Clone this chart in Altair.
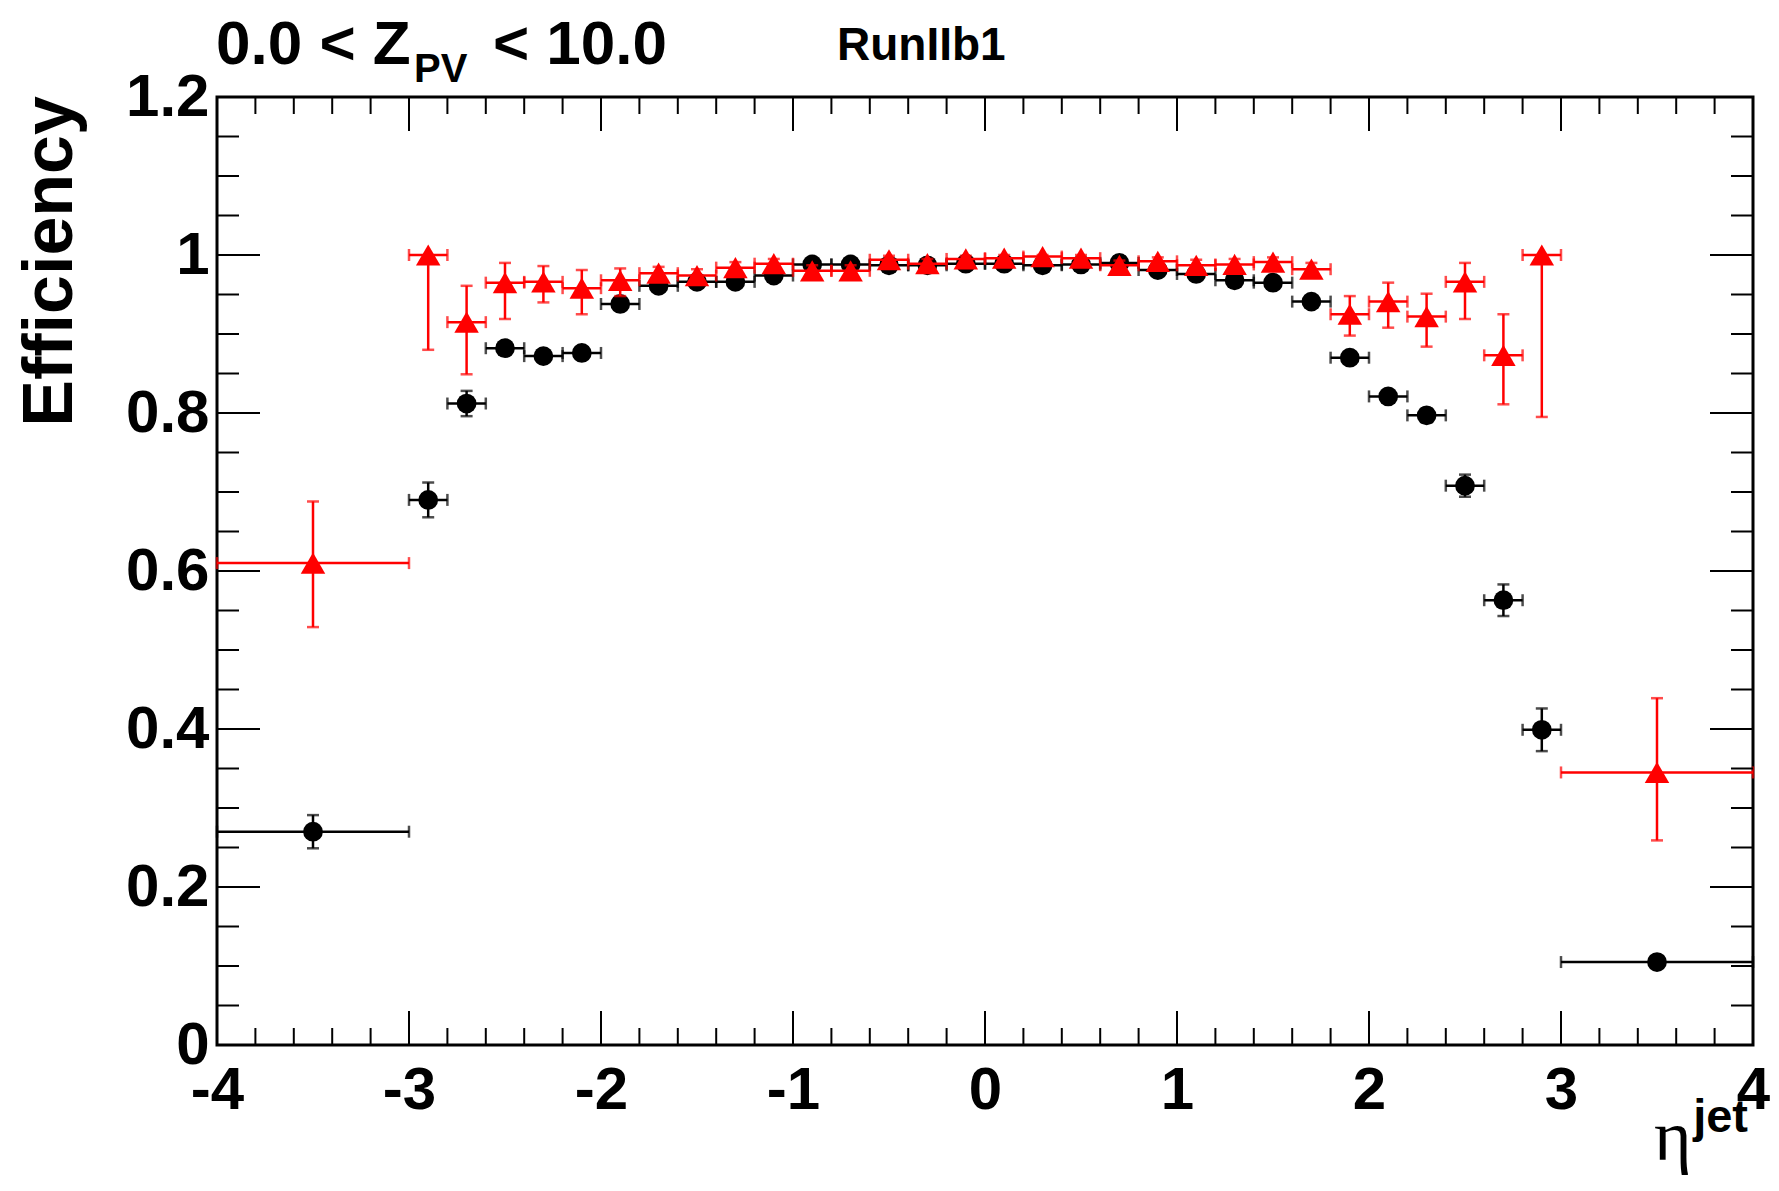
import altair as alt
import pandas as pd

# ---------------- data ----------------
eta = [-3.5, -2.9, -2.7, -2.5, -2.3, -2.1, -1.9, -1.7, -1.5, -1.3, -1.1, -0.9, -0.7, -0.5, -0.3, -0.1,
       0.1, 0.3, 0.5, 0.7, 0.9, 1.1, 1.3, 1.5, 1.7, 1.9, 2.1, 2.3, 2.5, 2.7, 2.9, 3.5]
bin_lo = [-4.0, -3.0, -2.8, -2.6, -2.4, -2.2, -2.0, -1.8, -1.6, -1.4, -1.2, -1.0, -0.8, -0.6, -0.4, -0.2,
          0.0, 0.2, 0.4, 0.6, 0.8, 1.0, 1.2, 1.4, 1.6, 1.8, 2.0, 2.2, 2.4, 2.6, 2.8, 3.0]
bin_hi = [-3.0, -2.8, -2.6, -2.4, -2.2, -2.0, -1.8, -1.6, -1.4, -1.2, -1.0, -0.8, -0.6, -0.4, -0.2, 0.0,
          0.2, 0.4, 0.6, 0.8, 1.0, 1.2, 1.4, 1.6, 1.8, 2.0, 2.2, 2.4, 2.6, 2.8, 3.0, 4.0]

black_eff = [0.270, 0.690, 0.812, 0.882, 0.872, 0.876, 0.938, 0.961, 0.966, 0.966, 0.974, 0.988, 0.988,
             0.987, 0.987, 0.989, 0.989, 0.987, 0.988, 0.990, 0.981, 0.976, 0.968, 0.965, 0.941, 0.870,
             0.821, 0.797, 0.708, 0.563, 0.399, 0.105]
black_err = [0.021, 0.022, 0.016, 0.006, 0.006, 0.006, 0.005, 0.004, 0.004, 0.004, 0.004, 0.003, 0.003,
             0.003, 0.003, 0.003, 0.003, 0.003, 0.003, 0.003, 0.003, 0.004, 0.004, 0.004, 0.005, 0.007,
             0.008, 0.009, 0.014, 0.020, 0.027, 0.004]

red_eff = [0.610, 1.000, 0.915, 0.965, 0.966, 0.958, 0.968, 0.977, 0.974, 0.984, 0.989, 0.980, 0.980,
           0.994, 0.989, 0.995, 0.996, 0.998, 0.996, 0.987, 0.992, 0.987, 0.988, 0.991, 0.982, 0.925,
           0.941, 0.922, 0.966, 0.873, 1.000, 0.345]
red_err_up = [0.078, 0.000, 0.046, 0.025, 0.020, 0.023, 0.015, 0.008, 0.008, 0.007, 0.006, 0.007, 0.007,
              0.005, 0.006, 0.004, 0.004, 0.002, 0.004, 0.006, 0.005, 0.007, 0.007, 0.006, 0.008, 0.023,
              0.024, 0.029, 0.024, 0.052, 0.000, 0.094]
red_err_dn = [0.081, 0.120, 0.066, 0.046, 0.026, 0.033, 0.020, 0.010, 0.010, 0.009, 0.008, 0.009, 0.009,
              0.007, 0.008, 0.006, 0.006, 0.006, 0.006, 0.008, 0.007, 0.009, 0.009, 0.008, 0.010, 0.027,
              0.033, 0.038, 0.047, 0.062, 0.205, 0.086]

x_major = [-4, -3, -2, -1, 0, 1, 2, 3, 4]
x_minor = [-3.8, -3.6, -3.4, -3.2, -2.8, -2.6, -2.4, -2.2, -1.8, -1.6, -1.4, -1.2, -0.8, -0.6, -0.4, -0.2,
           0.2, 0.4, 0.6, 0.8, 1.2, 1.4, 1.6, 1.8, 2.2, 2.4, 2.6, 2.8, 3.2, 3.4, 3.6, 3.8]
y_major = [0, 0.2, 0.4, 0.6, 0.8, 1.0, 1.2]
y_minor = [0.05, 0.1, 0.15, 0.25, 0.3, 0.35, 0.45, 0.5, 0.55, 0.65, 0.7, 0.75, 0.85, 0.9, 0.95,
           1.05, 1.1, 1.15]

title_left = ["0.0 < Z"]
title_sub = ["PV"]
title_right = ["< 10.0"]
run_label = ["RunIIb1"]
y_title = ["Efficiency"]
x_title_main = ["\u03b7"]
x_title_sup = ["jet"]

# ---------------- layout ----------------
W, H = 1536, 948
FONT = "Liberation Sans"

x_scale = alt.Scale(domain=[-4, 4], nice=False, zero=False)
y_scale = alt.Scale(domain=[0, 1.2], nice=False, zero=False)

x_axis = alt.Axis(values=x_major, title=None, labelPadding=16, labelFlush=False, labelOverlap=False,
                  labelFontSize=60, labelExpr="'' + datum.value",
                  ticks=False, domain=False, grid=False)
y_axis = alt.Axis(values=y_major, title=None, labelPadding=8, labelFlush=False, labelOverlap=False,
                  labelFontSize=60, labelExpr="'' + datum.value",
                  ticks=False, domain=False, grid=False)


def X(field):
    return alt.X(field, scale=x_scale, axis=x_axis)


def Y(field):
    return alt.Y(field, scale=y_scale, axis=y_axis)


def series_layers(df, color, shape, size):
    base = alt.Chart(df)
    lw = 2.5
    vbar = base.mark_rule(color=color, strokeWidth=lw).encode(
        x=X("eta:Q"), y=Y("lo_y:Q"), y2="hi_y:Q")
    hbar = base.mark_rule(color=color, strokeWidth=lw).encode(
        x=X("lo_x:Q"), x2="hi_x:Q", y=Y("eff:Q"))
    cap_lo = base.transform_filter("datum.eff - datum.lo_y > 0").mark_tick(
        orient="horizontal", color=color, size=12, thickness=lw).encode(
        x=X("eta:Q"), y=Y("lo_y:Q"))
    cap_hi = base.transform_filter("datum.hi_y - datum.eff > 0").mark_tick(
        orient="horizontal", color=color, size=12, thickness=lw).encode(
        x=X("eta:Q"), y=Y("hi_y:Q"))
    cap_l = base.mark_tick(orient="vertical", color=color, size=12, thickness=lw).encode(
        x=X("lo_x:Q"), y=Y("eff:Q"))
    cap_r = base.mark_tick(orient="vertical", color=color, size=12, thickness=lw).encode(
        x=X("hi_x:Q"), y=Y("eff:Q"))
    pts = base.mark_point(filled=True, shape=shape, size=size, color=color, opacity=1,
                          strokeWidth=0).encode(x=X("eta:Q"), y=Y("eff:Q"))
    return [vbar, hbar, cap_lo, cap_hi, cap_l, cap_r, pts]


black_df = pd.DataFrame({
    "eta": eta, "lo_x": bin_lo, "hi_x": bin_hi, "eff": black_eff,
    "lo_y": [e - d for e, d in zip(black_eff, black_err)],
    "hi_y": [e + d for e, d in zip(black_eff, black_err)],
})
red_df = pd.DataFrame({
    "eta": eta, "lo_x": bin_lo, "hi_x": bin_hi, "eff": red_eff,
    "lo_y": [e - d for e, d in zip(red_eff, red_err_dn)],
    "hi_y": [e + d for e, d in zip(red_eff, red_err_up)],
})


def yticks(vals, x0, x1):
    return alt.Chart(pd.DataFrame({"v": vals})).mark_rule(color="black", strokeWidth=2).encode(
        y=Y("v:Q"), x=alt.value(x0), x2=alt.value(x1))


def xticks(vals, y0, y1):
    return alt.Chart(pd.DataFrame({"v": vals})).mark_rule(color="black", strokeWidth=2).encode(
        x=X("v:Q"), y=alt.value(y0), y2=alt.value(y1))


tick_layers = [
    yticks(y_major, 0, 43), yticks(y_minor, 0, 22),
    yticks(y_major, W - 43, W), yticks(y_minor, W - 22, W),
    xticks(x_major, 0, 34), xticks(x_minor, 0, 17),
    xticks(x_major, H - 34, H), xticks(x_minor, H - 17, H),
]


def label(texts, x, y, size, align="left", weight="bold", font=FONT, angle=0):
    return alt.Chart(pd.DataFrame({"t": texts})).mark_text(
        align=align, baseline="alphabetic", font=font, fontSize=size, fontWeight=weight,
        color="black", angle=angle).encode(text="t:N", x=alt.value(x), y=alt.value(y))


text_layers = [
    label(title_left, -1, -33, 62),
    label(title_sub, 197, -15, 40),
    label(title_right, 450, -33, 62, align="right"),
    label(run_label, 620, -37, 46),
    label(y_title, -145, -1, 70, align="right", angle=270),
    label(x_title_main, 1437, 1063, 72, weight="normal", font="Liberation Serif"),
    label(x_title_sup, 1531, 1035, 47, align="right"),
]

layers = (series_layers(black_df, "black", "circle", 390)
          + series_layers(red_df, "#ff0000", "triangle-up", 600)
          + tick_layers + text_layers)

chart = alt.layer(*layers).properties(
    width=W, height=H,
    autosize=alt.AutoSizeParams(type="none"),
    padding={"left": 209, "top": 89, "right": 18, "bottom": 136},
    background="white",
).configure_view(
    stroke="black", strokeWidth=3
).configure_axis(
    labelFont=FONT, labelFontWeight="bold", labelColor="black",
)

chart.save("out.html", embed_options={"renderer": "svg", "actions": False})
